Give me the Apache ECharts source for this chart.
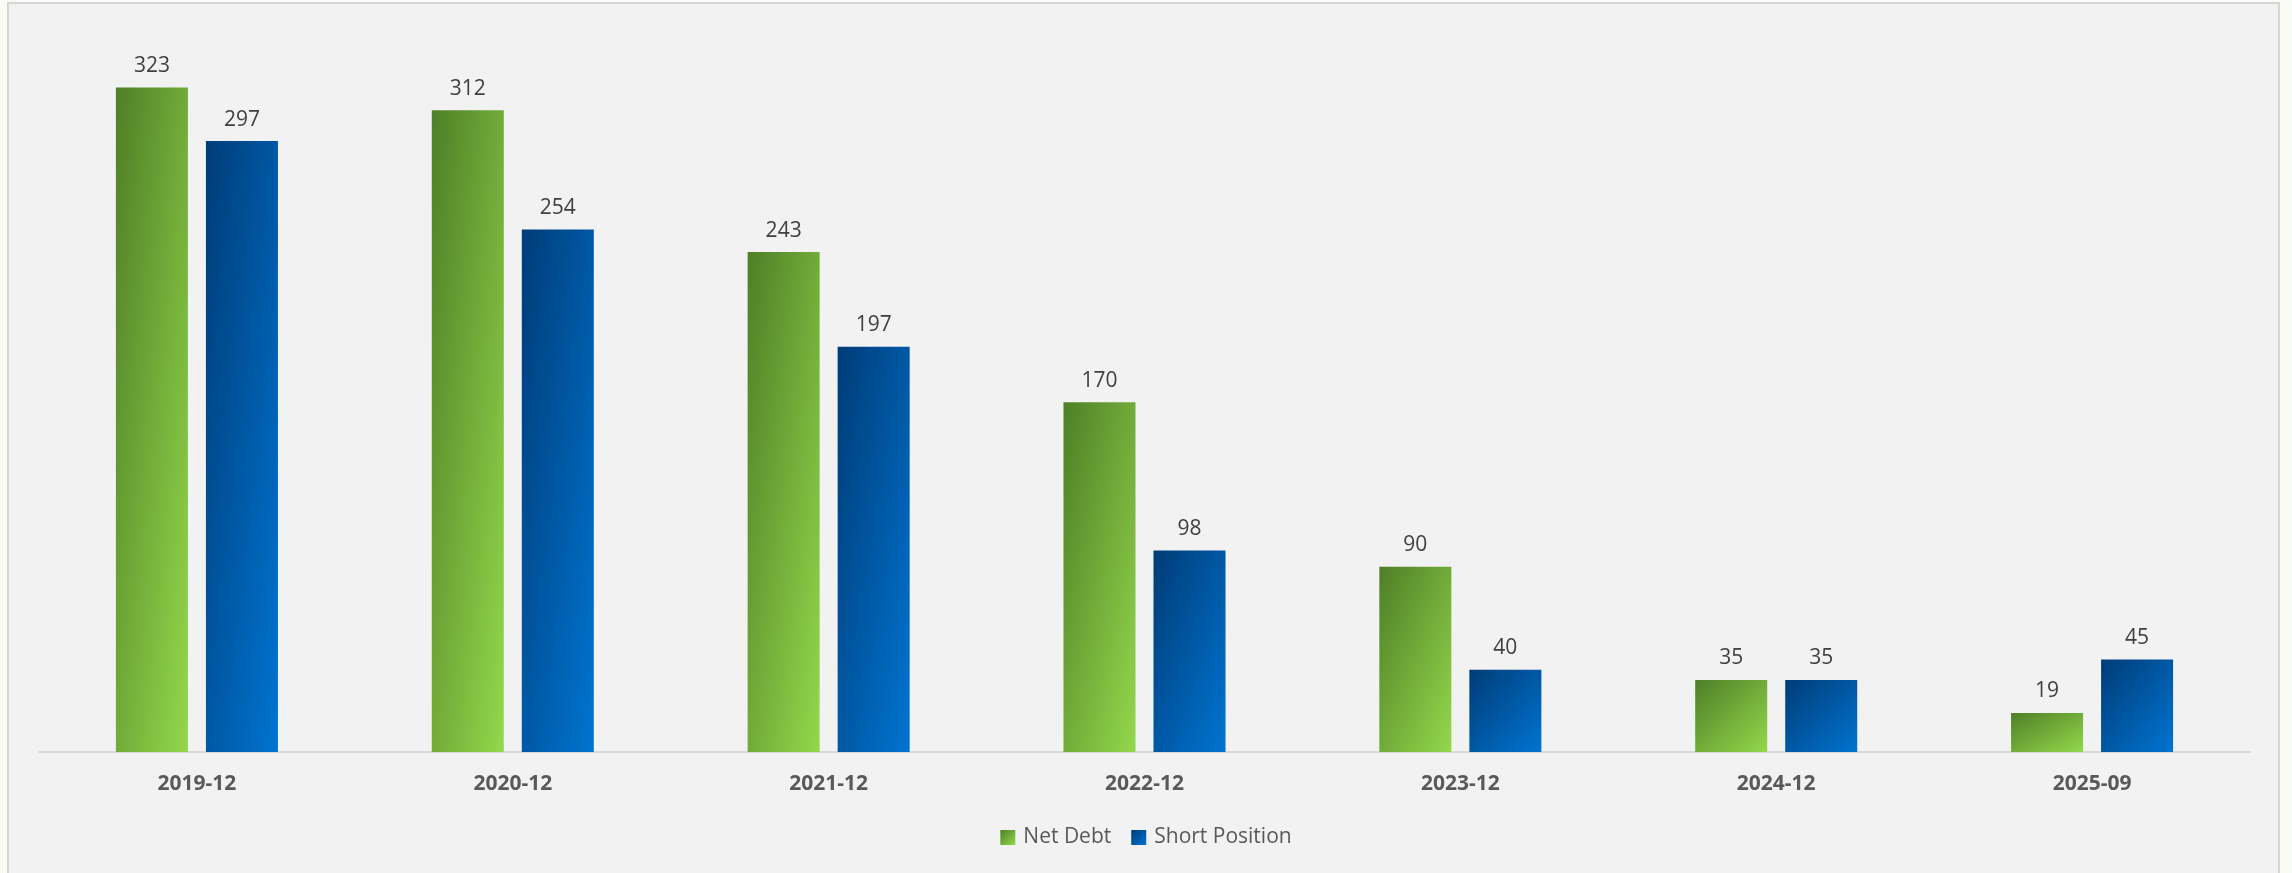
<!DOCTYPE html>
<html>
<head>
<meta charset="utf-8">
<script src="https://cdn.jsdelivr.net/npm/echarts@6/dist/echarts.min.js"></script>
<style>
  html, body { margin: 0; padding: 0; background: #f8fbf6; }
  #chart { width: 2292px; height: 873px; }
</style>
</head>
<body>
<div id="chart"></div>
<script>
// Period labels along the category axis
const categories = ['2019-12', '2020-12', '2021-12', '2022-12', '2023-12', '2024-12', '2025-09'];
// Series values
const netDebt = [323, 312, 243, 170, 90, 35, 19];
const shortPosition = [297, 254, 197, 98, 40, 35, 45];
const seriesNames = ['Net Debt', 'Short Position'];

const GREEN = ['#4f7f27', '#93d84b'];
const BLUE = ['#003c78', '#0074d0'];

// Diagonal gradient whose mid isoline runs corner to corner (bottom-left to top-right)
function diagGradient(stops, w, h) {
  const d = w * w + h * h;
  const x2 = h > 0 ? (2 * h * h) / d : 1;
  const y2 = h > 0 ? (2 * w * w) / d : 1;
  return new echarts.graphic.LinearGradient(0, 0, x2, y2, [
    { offset: 0, color: stops[0] },
    { offset: 1, color: stops[1] }
  ]);
}

const chart = echarts.init(document.getElementById('chart'), null, { renderer: 'canvas' });

const labelStyle = {
  show: true,
  position: 'top',
  distance: 11,
  color: '#404040',
  fontFamily: 'Open Sans',
  fontSize: 21
};

function buildOption(greenData, blueData) {
  return {
    backgroundColor: '#f8fbf6',
    animation: false,
    graphic: [{
      type: 'rect',
      z: -10,
      silent: true,
      shape: { x: 8, y: 3, width: 2271, height: 900 },
      style: { fill: '#f2f2f2', stroke: '#d6d6d6', lineWidth: 2 }
    }],
    grid: { left: 39, right: 42, top: 32, bottom: 121, containLabel: false },
    legend: {
      bottom: 20,
      left: 'center',
      itemWidth: 15,
      itemHeight: 15,
      itemGap: 20,
      icon: 'rect',
      textStyle: { color: '#595959', fontFamily: 'Open Sans', fontSize: 21, padding: [0, 0, 0, 3] },
      data: seriesNames
    },
    xAxis: {
      type: 'category',
      data: categories,
      axisLine: { show: true, lineStyle: { color: '#d9d9d9', width: 2 } },
      axisTick: { show: false },
      axisLabel: {
        color: '#595959',
        fontFamily: 'Open Sans',
        fontWeight: 'bold',
        fontSize: 21,
        margin: 22
      }
    },
    yAxis: {
      type: 'value',
      min: 0,
      max: 350,
      show: false,
      splitLine: { show: false }
    },
    series: [
      {
        name: seriesNames[0],
        type: 'bar',
        barWidth: '22.8%',
        barGap: '25%',
        itemStyle: { color: diagGradient(GREEN, 1, 1) },
        label: labelStyle,
        data: greenData
      },
      {
        name: seriesNames[1],
        type: 'bar',
        barWidth: '22.8%',
        barGap: '25%',
        itemStyle: { color: diagGradient(BLUE, 1, 1) },
        label: labelStyle,
        data: blueData
      }
    ]
  };
}

chart.setOption(buildOption(netDebt, shortPosition));

// Re-colour each bar with a gradient sized to its own pixel box
function styled(values, seriesIndex, stops) {
  const layout = chart.getModel().getSeriesByIndex(seriesIndex).getData();
  return values.map((v, i) => {
    const rect = layout.getItemLayout(i);
    const w = Math.abs(rect.width);
    const h = Math.abs(rect.height);
    return { value: v, itemStyle: { color: diagGradient(stops, w, h) } };
  });
}

chart.setOption(buildOption(styled(netDebt, 0, GREEN), styled(shortPosition, 1, BLUE)));
</script>
</body>
</html>
